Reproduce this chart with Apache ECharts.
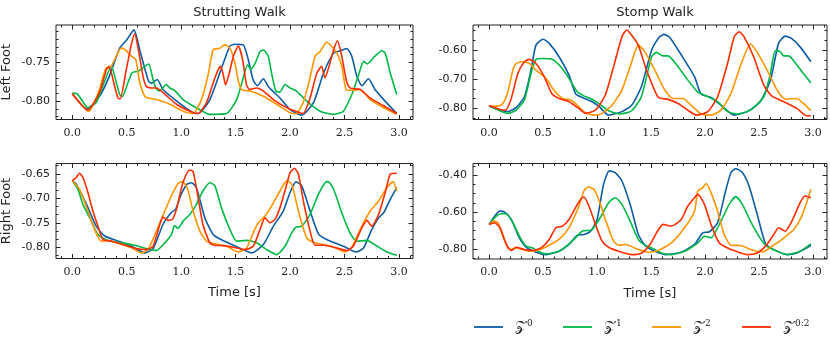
<!DOCTYPE html>
<html>
<head>
<meta charset="utf-8">
<script src="https://cdn.jsdelivr.net/npm/echarts@6/dist/echarts.min.js"></script>
<style>
html,body{margin:0;padding:0;background:#fff}
#main{width:830px;height:341px}
</style>
</head>
<body>
<div id="main"></div>
<script>
// names of the four feature sets
const seriesNames = ['Z0', 'Z1', 'Z2', 'Z02'];
const colors = ['#0C5DA5', '#00B945', '#FF9500', '#FF2C00'];
const xTickLabels = [0, 0.5, 1.0, 1.5, 2.0, 2.5, 3.0];

// Strutting Walk - Left Foot  ([time, value])
const strutLeftZ0 = [[0,-0.790],[0.135,-0.810],[0.25,-0.794],[0.34,-0.768],[0.436,-0.7316],[0.50,-0.721],[0.567,-0.708],[0.62,-0.734],[0.70,-0.774],[0.727,-0.777],[0.78,-0.772],[0.834,-0.785],[0.96,-0.800],[1.11,-0.815],[1.156,-0.816],[1.264,-0.798],[1.387,-0.751],[1.448,-0.729],[1.49,-0.7265],[1.57,-0.7274],[1.617,-0.7466],[1.66,-0.772],[1.70,-0.780],[1.755,-0.771],[1.80,-0.781],[1.908,-0.796],[2.0,-0.811],[2.107,-0.818],[2.215,-0.802],[2.307,-0.764],[2.40,-0.738],[2.46,-0.735],[2.52,-0.732],[2.567,-0.742],[2.613,-0.768],[2.66,-0.780],[2.72,-0.771],[2.78,-0.785],[2.86,-0.798],[2.98,-0.816]];
const strutLeftZ1 = [[0,-0.790],[0.037,-0.790],[0.144,-0.8085],[0.22,-0.802],[0.298,-0.774],[0.36,-0.755],[0.39,-0.768],[0.436,-0.7915],[0.46,-0.794],[0.512,-0.776],[0.552,-0.763],[0.604,-0.7615],[0.666,-0.755],[0.702,-0.752],[0.742,-0.772],[0.767,-0.783],[0.80,-0.787],[0.865,-0.7786],[0.896,-0.783],[0.94,-0.786],[1.018,-0.798],[1.14,-0.8085],[1.264,-0.8171],[1.417,-0.816],[1.51,-0.798],[1.57,-0.770],[1.61,-0.753],[1.64,-0.759],[1.68,-0.751],[1.724,-0.736],[1.755,-0.734],[1.80,-0.742],[1.83,-0.7637],[1.87,-0.787],[1.908,-0.788],[1.954,-0.7786],[2.0,-0.783],[2.06,-0.787],[2.153,-0.800],[2.276,-0.813],[2.40,-0.8171],[2.49,-0.813],[2.567,-0.7915],[2.63,-0.7658],[2.675,-0.7487],[2.71,-0.752],[2.78,-0.742],[2.843,-0.735],[2.874,-0.738],[2.92,-0.7637],[2.98,-0.7915]];
const strutLeftZ2 = [[0,-0.790],[0.153,-0.8132],[0.25,-0.785],[0.313,-0.757],[0.343,-0.757],[0.45,-0.7316],[0.48,-0.733],[0.543,-0.742],[0.583,-0.746],[0.62,-0.776],[0.666,-0.794],[0.696,-0.796],[0.773,-0.798],[0.896,-0.804],[1.018,-0.813],[1.11,-0.816],[1.187,-0.798],[1.248,-0.766],[1.294,-0.7338],[1.356,-0.7316],[1.40,-0.7274],[1.448,-0.7316],[1.494,-0.751],[1.525,-0.774],[1.555,-0.785],[1.632,-0.787],[1.755,-0.7936],[1.877,-0.804],[2.0,-0.815],[2.055,-0.8162],[2.12,-0.802],[2.18,-0.772],[2.23,-0.742],[2.276,-0.736],[2.337,-0.724],[2.383,-0.7295],[2.43,-0.738],[2.475,-0.755],[2.515,-0.785],[2.567,-0.786],[2.644,-0.785],[2.736,-0.798],[2.86,-0.8085],[2.98,-0.817]];
const strutLeftZ02 = [[0,-0.790],[0.144,-0.8115],[0.25,-0.789],[0.313,-0.7594],[0.337,-0.755],[0.39,-0.781],[0.42,-0.796],[0.44,-0.797],[0.497,-0.759],[0.543,-0.727],[0.573,-0.713],[0.613,-0.738],[0.65,-0.768],[0.68,-0.781],[0.727,-0.783],[0.773,-0.783],[0.834,-0.789],[0.957,-0.804],[1.08,-0.813],[1.156,-0.816],[1.233,-0.802],[1.294,-0.7765],[1.34,-0.7594],[1.362,-0.755],[1.387,-0.766],[1.408,-0.779],[1.44,-0.765],[1.48,-0.742],[1.525,-0.729],[1.564,-0.746],[1.60,-0.779],[1.63,-0.785],[1.693,-0.783],[1.755,-0.787],[1.847,-0.798],[1.97,-0.8085],[2.09,-0.815],[2.12,-0.816],[2.18,-0.798],[2.245,-0.764],[2.29,-0.755],[2.32,-0.770],[2.35,-0.759],[2.40,-0.734],[2.435,-0.722],[2.475,-0.742],[2.515,-0.772],[2.55,-0.783],[2.644,-0.785],[2.736,-0.796],[2.86,-0.806],[2.98,-0.816]];

// Stomp Walk - Left Foot
const stompLeftZ0 = [[0,-0.791],[0.098,-0.806],[0.174,-0.811],[0.25,-0.797],[0.327,-0.760],[0.388,-0.669],[0.434,-0.583],[0.50,-0.563],[0.557,-0.577],[0.648,-0.623],[0.74,-0.686],[0.80,-0.749],[0.847,-0.760],[0.954,-0.777],[1.015,-0.792],[1.107,-0.823],[1.23,-0.811],[1.32,-0.789],[1.41,-0.726],[1.505,-0.600],[1.566,-0.560],[1.618,-0.546],[1.673,-0.557],[1.78,-0.617],[1.902,-0.691],[1.963,-0.751],[2.055,-0.762],[2.147,-0.789],[2.27,-0.823],[2.39,-0.811],[2.51,-0.777],[2.606,-0.703],[2.68,-0.577],[2.743,-0.552],[2.80,-0.560],[2.88,-0.589],[2.98,-0.640]];
const stompLeftZ1 = [[0,-0.791],[0.098,-0.808],[0.174,-0.817],[0.25,-0.806],[0.327,-0.771],[0.388,-0.680],[0.434,-0.632],[0.495,-0.629],[0.587,-0.632],[0.664,-0.657],[0.74,-0.697],[0.816,-0.743],[0.878,-0.757],[0.94,-0.766],[1.015,-0.783],[1.107,-0.808],[1.214,-0.819],[1.32,-0.808],[1.41,-0.760],[1.505,-0.623],[1.55,-0.608],[1.61,-0.620],[1.657,-0.620],[1.75,-0.657],[1.84,-0.703],[1.93,-0.743],[1.99,-0.754],[2.116,-0.777],[2.208,-0.811],[2.30,-0.819],[2.42,-0.806],[2.544,-0.760],[2.605,-0.680],[2.65,-0.602],[2.697,-0.606],[2.728,-0.620],[2.774,-0.620],[2.85,-0.651],[2.91,-0.680],[2.98,-0.712]];
const stompLeftZ2 = [[0,-0.791],[0.083,-0.792],[0.128,-0.783],[0.174,-0.743],[0.22,-0.669],[0.25,-0.646],[0.31,-0.640],[0.373,-0.646],[0.434,-0.669],[0.526,-0.697],[0.60,-0.737],[0.68,-0.766],[0.755,-0.771],[0.80,-0.783],[0.893,-0.815],[0.97,-0.823],[1.046,-0.817],[1.138,-0.789],[1.23,-0.737],[1.306,-0.657],[1.382,-0.583],[1.443,-0.606],[1.535,-0.669],[1.627,-0.737],[1.703,-0.766],[1.795,-0.766],[1.87,-0.789],[1.963,-0.819],[2.055,-0.823],[2.147,-0.806],[2.24,-0.749],[2.33,-0.651],[2.42,-0.579],[2.48,-0.606],[2.575,-0.669],[2.667,-0.737],[2.743,-0.768],[2.85,-0.766],[2.91,-0.783],[2.98,-0.808]];
const stompLeftZ02 = [[0,-0.791],[0.098,-0.803],[0.153,-0.806],[0.205,-0.766],[0.266,-0.680],[0.327,-0.640],[0.373,-0.632],[0.434,-0.646],[0.51,-0.691],[0.58,-0.749],[0.648,-0.766],[0.74,-0.777],[0.83,-0.800],[0.893,-0.817],[0.985,-0.806],[1.076,-0.754],[1.153,-0.657],[1.23,-0.554],[1.275,-0.531],[1.32,-0.549],[1.382,-0.583],[1.458,-0.669],[1.566,-0.762],[1.657,-0.769],[1.75,-0.783],[1.84,-0.806],[1.917,-0.823],[2.025,-0.811],[2.116,-0.760],[2.208,-0.646],[2.27,-0.554],[2.315,-0.537],[2.36,-0.554],[2.45,-0.623],[2.544,-0.720],[2.62,-0.758],[2.73,-0.777],[2.85,-0.800],[2.94,-0.825],[2.98,-0.825]];

// Strutting Walk - Right Foot
const strutRightZ0 = [[0,-0.664],[0.037,-0.671],[0.13,-0.712],[0.22,-0.757],[0.298,-0.777],[0.405,-0.786],[0.527,-0.796],[0.604,-0.805],[0.666,-0.8116],[0.742,-0.803],[0.834,-0.753],[0.91,-0.729],[0.95,-0.7226],[1.0,-0.692],[1.055,-0.671],[1.095,-0.668],[1.14,-0.678],[1.218,-0.740],[1.294,-0.774],[1.356,-0.783],[1.48,-0.796],[1.57,-0.805],[1.647,-0.8116],[1.755,-0.7945],[1.847,-0.757],[1.938,-0.726],[2.0,-0.688],[2.055,-0.6664],[2.107,-0.6747],[2.184,-0.726],[2.26,-0.7726],[2.337,-0.784],[2.49,-0.798],[2.607,-0.8096],[2.675,-0.8014],[2.75,-0.764],[2.813,-0.740],[2.86,-0.7295],[2.92,-0.702],[2.98,-0.678]];
const strutRightZ1 = [[0,-0.664],[0.052,-0.6815],[0.098,-0.7123],[0.16,-0.7397],[0.236,-0.774],[0.328,-0.786],[0.466,-0.791],[0.574,-0.796],[0.68,-0.8027],[0.773,-0.8068],[0.85,-0.791],[0.91,-0.774],[0.94,-0.7555],[0.972,-0.7616],[1.018,-0.7466],[1.08,-0.733],[1.14,-0.7123],[1.20,-0.685],[1.264,-0.668],[1.31,-0.6747],[1.37,-0.719],[1.448,-0.7637],[1.51,-0.7877],[1.60,-0.786],[1.693,-0.791],[1.785,-0.8048],[1.877,-0.815],[1.954,-0.798],[2.015,-0.7706],[2.055,-0.7589],[2.107,-0.757],[2.184,-0.733],[2.26,-0.6918],[2.322,-0.668],[2.35,-0.6658],[2.40,-0.6815],[2.475,-0.7295],[2.55,-0.7706],[2.613,-0.7877],[2.705,-0.786],[2.80,-0.798],[2.89,-0.8096],[2.98,-0.8165]];
const strutRightZ2 = [[0,-0.664],[0.067,-0.6815],[0.144,-0.726],[0.205,-0.7637],[0.267,-0.7877],[0.328,-0.786],[0.436,-0.793],[0.543,-0.801],[0.635,-0.8116],[0.696,-0.8048],[0.773,-0.767],[0.85,-0.726],[0.91,-0.6952],[0.972,-0.6699],[1.012,-0.6658],[1.055,-0.678],[1.11,-0.726],[1.172,-0.767],[1.233,-0.7877],[1.31,-0.793],[1.417,-0.798],[1.525,-0.8096],[1.60,-0.8014],[1.662,-0.7706],[1.708,-0.750],[1.77,-0.736],[1.83,-0.7158],[1.908,-0.685],[1.97,-0.6644],[2.015,-0.671],[2.077,-0.726],[2.153,-0.7808],[2.23,-0.791],[2.337,-0.796],[2.43,-0.8027],[2.506,-0.8096],[2.567,-0.800],[2.644,-0.7637],[2.736,-0.726],[2.813,-0.7055],[2.89,-0.678],[2.945,-0.6658],[2.98,-0.685]];
const strutRightZ02 = [[0,-0.664],[0.037,-0.6575],[0.067,-0.6486],[0.098,-0.6575],[0.144,-0.688],[0.19,-0.726],[0.236,-0.757],[0.282,-0.784],[0.359,-0.7877],[0.466,-0.7945],[0.589,-0.8027],[0.681,-0.8048],[0.742,-0.798],[0.804,-0.7534],[0.834,-0.7384],[0.88,-0.745],[0.92,-0.743],[0.957,-0.7226],[1.0,-0.6815],[1.034,-0.6575],[1.074,-0.6425],[1.11,-0.645],[1.156,-0.699],[1.20,-0.7534],[1.264,-0.791],[1.31,-0.796],[1.387,-0.7966],[1.48,-0.800],[1.585,-0.8048],[1.662,-0.798],[1.724,-0.7637],[1.77,-0.740],[1.816,-0.750],[1.862,-0.743],[1.908,-0.719],[1.97,-0.6712],[2.0,-0.6473],[2.04,-0.6384],[2.077,-0.6507],[2.122,-0.7055],[2.184,-0.767],[2.23,-0.796],[2.307,-0.796],[2.43,-0.8014],[2.52,-0.8068],[2.58,-0.798],[2.66,-0.760],[2.705,-0.745],[2.75,-0.757],[2.813,-0.733],[2.874,-0.688],[2.92,-0.6507],[2.98,-0.6486]];

// Stomp Walk - Right Foot
const stompRightZ0 = [[0,-0.667],[0.052,-0.622],[0.098,-0.595],[0.144,-0.600],[0.205,-0.640],[0.28,-0.740],[0.343,-0.791],[0.434,-0.818],[0.526,-0.831],[0.648,-0.813],[0.74,-0.776],[0.816,-0.7255],[0.878,-0.722],[0.94,-0.704],[1.0,-0.640],[1.06,-0.449],[1.113,-0.376],[1.168,-0.385],[1.23,-0.431],[1.306,-0.558],[1.382,-0.722],[1.443,-0.780],[1.535,-0.813],[1.642,-0.831],[1.78,-0.818],[1.902,-0.776],[1.978,-0.713],[2.04,-0.707],[2.116,-0.658],[2.19,-0.4855],[2.24,-0.385],[2.285,-0.364],[2.345,-0.385],[2.407,-0.458],[2.483,-0.613],[2.56,-0.773],[2.636,-0.804],[2.76,-0.831],[2.85,-0.822],[2.98,-0.782]];
const stompRightZ1 = [[0,-0.667],[0.067,-0.622],[0.113,-0.609],[0.159,-0.609],[0.22,-0.658],[0.297,-0.749],[0.343,-0.785],[0.404,-0.795],[0.45,-0.813],[0.526,-0.827],[0.648,-0.813],[0.77,-0.758],[0.862,-0.704],[0.954,-0.695],[1.046,-0.613],[1.107,-0.549],[1.168,-0.522],[1.23,-0.558],[1.306,-0.649],[1.382,-0.749],[1.443,-0.780],[1.505,-0.795],[1.596,-0.822],[1.688,-0.831],[1.81,-0.813],[1.933,-0.767],[1.994,-0.731],[2.055,-0.740],[2.147,-0.649],[2.223,-0.558],[2.285,-0.516],[2.345,-0.558],[2.42,-0.649],[2.498,-0.731],[2.56,-0.780],[2.65,-0.809],[2.76,-0.831],[2.88,-0.813],[2.98,-0.773]];
const stompRightZ2 = [[0,-0.667],[0.052,-0.649],[0.083,-0.658],[0.128,-0.722],[0.174,-0.795],[0.205,-0.804],[0.236,-0.795],[0.297,-0.800],[0.373,-0.813],[0.465,-0.804],[0.557,-0.780],[0.664,-0.740],[0.74,-0.685],[0.832,-0.567],[0.878,-0.4855],[0.917,-0.464],[0.97,-0.476],[1.015,-0.531],[1.076,-0.640],[1.153,-0.758],[1.20,-0.780],[1.26,-0.776],[1.382,-0.804],[1.474,-0.818],[1.566,-0.809],[1.688,-0.767],[1.81,-0.685],[1.902,-0.595],[1.933,-0.4855],[1.978,-0.467],[2.01,-0.445],[2.055,-0.4945],[2.116,-0.595],[2.177,-0.722],[2.24,-0.780],[2.33,-0.782],[2.45,-0.809],[2.53,-0.816],[2.636,-0.780],[2.73,-0.740],[2.82,-0.695],[2.896,-0.622],[2.98,-0.476]];
const stompRightZ02 = [[0,-0.667],[0.052,-0.658],[0.098,-0.685],[0.159,-0.776],[0.205,-0.809],[0.25,-0.791],[0.327,-0.804],[0.404,-0.809],[0.48,-0.795],[0.557,-0.749],[0.618,-0.685],[0.68,-0.676],[0.74,-0.640],[0.80,-0.576],[0.847,-0.531],[0.878,-0.518],[0.924,-0.567],[0.985,-0.667],[1.046,-0.758],[1.107,-0.791],[1.20,-0.813],[1.32,-0.831],[1.413,-0.822],[1.49,-0.776],[1.55,-0.713],[1.61,-0.667],[1.688,-0.676],[1.78,-0.640],[1.84,-0.567],[1.902,-0.522],[1.933,-0.504],[1.994,-0.558],[2.055,-0.667],[2.13,-0.767],[2.208,-0.795],[2.30,-0.816],[2.39,-0.831],[2.483,-0.822],[2.56,-0.785],[2.636,-0.722],[2.682,-0.685],[2.743,-0.704],[2.804,-0.649],[2.88,-0.549],[2.926,-0.513],[2.98,-0.522]];

const xMin = -0.149, xMax = 3.129;
const ink = '#222';

const panels = [
  { left: 56, top: 25, width: 357, height: 94.5, yMin: -0.8237, yMax: -0.7017,
    yLabels: [-0.80, -0.75], yStep: 0.05, yDiv: 5, title: 'Strutting Walk', yName: 'Left Foot',
    data: [strutLeftZ0, strutLeftZ1, strutLeftZ2, strutLeftZ02] },
  { left: 473, top: 25, width: 354, height: 94.5, yMin: -0.838, yMax: -0.514,
    yLabels: [-0.80, -0.70, -0.60], yStep: 0.1, yDiv: 3, title: 'Stomp Walk',
    data: [stompLeftZ0, stompLeftZ1, stompLeftZ2, stompLeftZ02] },
  { left: 56, top: 163.5, width: 357, height: 95, yMin: -0.823, yMax: -0.6288,
    yLabels: [-0.80, -0.75, -0.70, -0.65], yStep: 0.05, yDiv: 3, yName: 'Right Foot', xName: 'Time [s]',
    data: [strutRightZ0, strutRightZ1, strutRightZ2, strutRightZ02] },
  { left: 473, top: 163.5, width: 354, height: 95.5, yMin: -0.855, yMax: -0.336,
    yLabels: [-0.80, -0.60, -0.40], yStep: 0.2, yDiv: 4, xName: 'Time [s]',
    data: [stompRightZ0, stompRightZ1, stompRightZ2, stompRightZ02] }
];

function minorTicks(min, max, step, div){
    const out = [];
    const s = step / div;
    const start = Math.ceil(min / s - 1e-6);
    for (let k = start; k * s <= max + 1e-9; k++) {
        const v = Math.round(k * s * 1e6) / 1e6;
        out.push(v);
    }
    return out;
}

function axisSet(dim, g, p){
    const isX = dim === 'x';
    const min = isX ? xMin : p.yMin;
    const max = isX ? xMax : p.yMax;
    const major = isX ? xTickLabels : p.yLabels;
    const minor = isX ? minorTicks(min, max, 0.5, 5) : minorTicks(min, max, p.yStep, p.yDiv);
    const sides = isX ? ['bottom', 'top'] : ['left', 'right'];
    const list = [];
    sides.forEach((side, si) => {
        [major, minor].forEach((vals, mi) => {
            const withLabel = si === 0 && mi === 0;
            const a = {
                type: 'value', gridIndex: g, min: min, max: max, position: side,
                axisLine: { show: false, onZero: false },
                splitLine: { show: false },
                axisTick: { show: true, inside: true, length: mi === 0 ? 4.5 : 2.5,
                    customValues: vals, lineStyle: { color: ink, width: 1 } },
                axisLabel: withLabel ? {
                    show: true, customValues: major,
                    formatter: v => isX ? v.toFixed(1) : v.toFixed(2),
                    margin: isX ? 8 : 6, color: ink, fontSize: 11,
                    fontFamily: isX ? 'DejaVu Serif' : 'DejaVu Sans'
                } : { show: false }
            };
            if (withLabel && isX && p.xName) {
                a.name = p.xName;
                a.nameLocation = 'middle';
                a.nameGap = 28;
                a.nameTextStyle = { fontSize: 13, color: ink, fontFamily: 'DejaVu Sans' };
            }
            list.push(a);
        });
    });
    return list;
}

const grid = [], xAxis = [], yAxis = [], series = [], title = [], graphic = [];
panels.forEach((p, g) => {
    grid.push({ left: p.left, top: p.top, width: p.width, height: p.height,
        show: true, borderColor: ink, borderWidth: 1, backgroundColor: 'transparent' });
    xAxis.push(...axisSet('x', g, p));
    yAxis.push(...axisSet('y', g, p));
    p.data.forEach((d, i) => {
        series.push({
            type: 'line', name: seriesNames[i], xAxisIndex: g * 4, yAxisIndex: g * 4,
            data: d, symbol: 'none', smooth: 0.2, animation: false,
            lineStyle: { color: colors[i], width: 1.6 }, itemStyle: { color: colors[i] }
        });
    });
    if (p.title) {
        title.push({ text: p.title, left: p.left + p.width / 2, top: 1, textAlign: 'center',
            textStyle: { fontSize: 13, fontWeight: 'normal', color: ink, fontFamily: 'DejaVu Sans' } });
    }
    if (p.yName) {
        graphic.push({ type: 'text', x: 7, y: p.top + p.height / 2, rotation: Math.PI / 2,
            style: { text: p.yName, fill: ink, font: '13px "DejaVu Sans"', align: 'center', verticalAlign: 'middle' } });
    }
});

const legendX = [474, 563, 652, 742];
const supText = { Z0: '0', Z1: '1', Z2: '2', Z02: '0:2' };
const legend = seriesNames.map((n, i) => ({
    data: [n], left: legendX[i], top: 319.5, padding: 0, itemWidth: 29, itemHeight: 14,
    icon: 'path://M0,6.6 L29,6.6 L29,8.4 L0,8.4 Z',
    formatter: name => '{z|𝒵}{s|' + supText[name] + '}',
    textStyle: { color: ink, rich: {
        z: { fontSize: 15, fontFamily: 'DejaVu Serif', padding: [0, 0, 0, 7] },
        s: { fontSize: 9, fontFamily: 'DejaVu Serif', verticalAlign: 'top', padding: [0, 0, 0, 1] }
    } }
}));

const chart = echarts.init(document.getElementById('main'), null, { renderer: 'canvas' });
chart.setOption({
    animation: false,
    backgroundColor: '#fff',
    title: title,
    legend: legend,
    grid: grid,
    xAxis: xAxis,
    yAxis: yAxis,
    series: series,
    graphic: graphic
});
</script>
</body>
</html>
